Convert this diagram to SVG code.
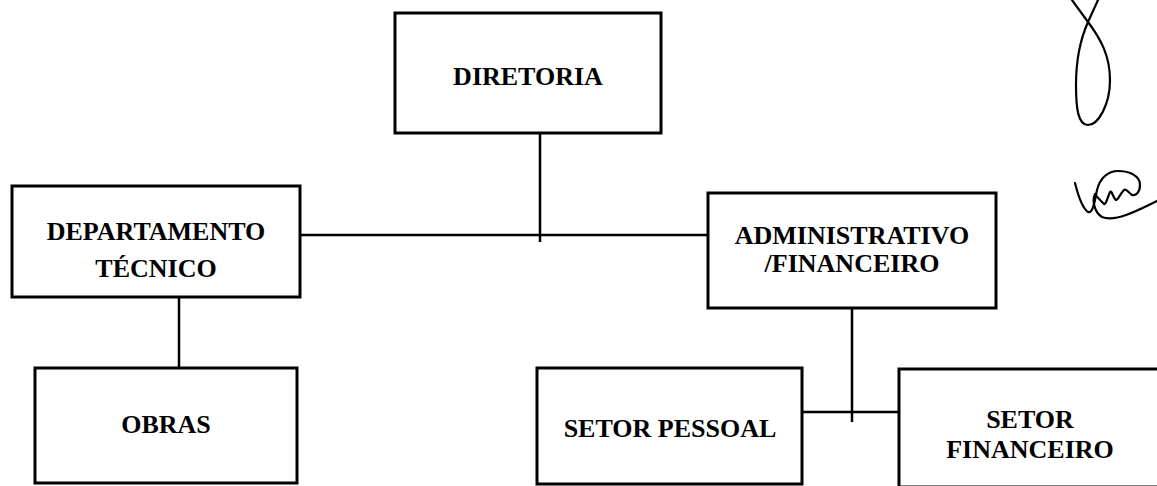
<svg xmlns="http://www.w3.org/2000/svg" width="1157" height="486" viewBox="0 0 1157 486">
<style>
.box{fill:#fff;stroke:#000;stroke-width:3}
.lbl{font-family:"Liberation Serif","Times New Roman",serif;font-weight:bold;font-size:26px;fill:#000;text-anchor:middle}
.con{stroke:#000;stroke-width:2.5;fill:none}
.sig{stroke:#000;stroke-width:2.2;fill:none;stroke-linecap:round;stroke-linejoin:round}
</style>
<rect width="1157" height="486" fill="#fff"/>
<g id="connectors">
<line class="con" x1="540" y1="125" x2="540" y2="242"/>
<line class="con" x1="300" y1="235" x2="708" y2="235"/>
<line class="con" x1="179" y1="297" x2="179" y2="368"/>
<line class="con" x1="852" y1="303" x2="852" y2="422"/>
<line class="con" x1="802" y1="412" x2="899" y2="412"/>
</g>
<g id="diretoria">
<rect class="box" x="395" y="13" width="266" height="120"/>
<text class="lbl" x="528" y="85">DIRETORIA</text>
</g>
<g id="departamento-tecnico">
<rect class="box" x="12" y="186" width="288" height="111"/>
<text class="lbl" x="156" y="240">DEPARTAMENTO</text>
<text class="lbl" x="156" y="277">TÉCNICO</text>
</g>
<g id="administrativo-financeiro">
<rect class="box" x="708" y="193" width="288" height="115"/>
<text class="lbl" x="852" y="244">ADMINISTRATIVO</text>
<text class="lbl" x="852" y="272">/FINANCEIRO</text>
</g>
<g id="obras">
<rect class="box" x="35" y="368" width="262" height="115"/>
<text class="lbl" x="166" y="433">OBRAS</text>
</g>
<g id="setor-pessoal">
<rect class="box" x="537" y="368" width="265" height="116"/>
<text class="lbl" x="670" y="437">SETOR PESSOAL</text>
</g>
<g id="setor-financeiro">
<rect class="box" x="899" y="369" width="262" height="118"/>
<text class="lbl" x="1030" y="428">SETOR</text>
<text class="lbl" x="1030" y="458">FINANCEIRO</text>
</g>
<g id="signature">
<path class="sig" d="M1072,0 L1088,22 C1100,38 1110,55 1110,80 C1110,105 1098,125 1088,125 C1078,125 1076,108 1076,85 C1076,60 1080,40 1088,22 L1098,0"/>
<path class="sig" d="M1075,183 C1078,195 1082,208 1088,212 C1093,214 1095,200 1097,190 C1100,178 1108,171 1118,171 C1130,171 1140,176 1140,185 C1140,192 1136,196 1132,195 C1128,192 1126,188 1124,190 C1120,194 1118,200 1116,200 C1113,198 1112,190 1110,192 C1108,196 1106,205 1104,204 C1100,200 1096,196 1095,194 C1092,200 1094,212 1102,217 C1115,222 1135,212 1157,201"/>
</g>
</svg>
